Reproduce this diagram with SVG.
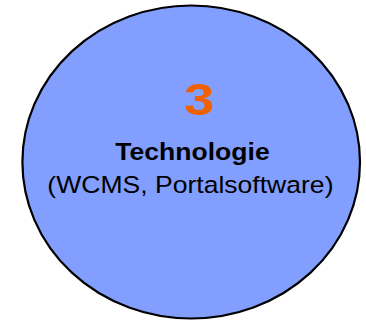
<svg xmlns="http://www.w3.org/2000/svg" width="366" height="322" viewBox="0 0 366 322">
<style>
.t{font-family:"Liberation Sans",Arial,sans-serif;text-anchor:middle}
</style>
<rect width="366" height="322" fill="#ffffff"/>
<g id="node-technologie">
<ellipse cx="191.2" cy="162" rx="168.8" ry="156.5" fill="#829FFF" stroke="#000" stroke-width="2.2"/>
<text class="t" transform="matrix(1.22,0,0,1,199,115)" font-size="44.5" font-weight="bold" fill="#F26100">3</text>
<text class="t" transform="matrix(1.14,0,0,1,192.5,160)" font-size="23.3" font-weight="bold" fill="#000">Technologie</text>
<text class="t" transform="matrix(1.14,0,0,1,190.4,192.7)" font-size="23.3" fill="#000">(WCMS, Portalsoftware)</text>
</g>
<g id="connectors"/>
</svg>
